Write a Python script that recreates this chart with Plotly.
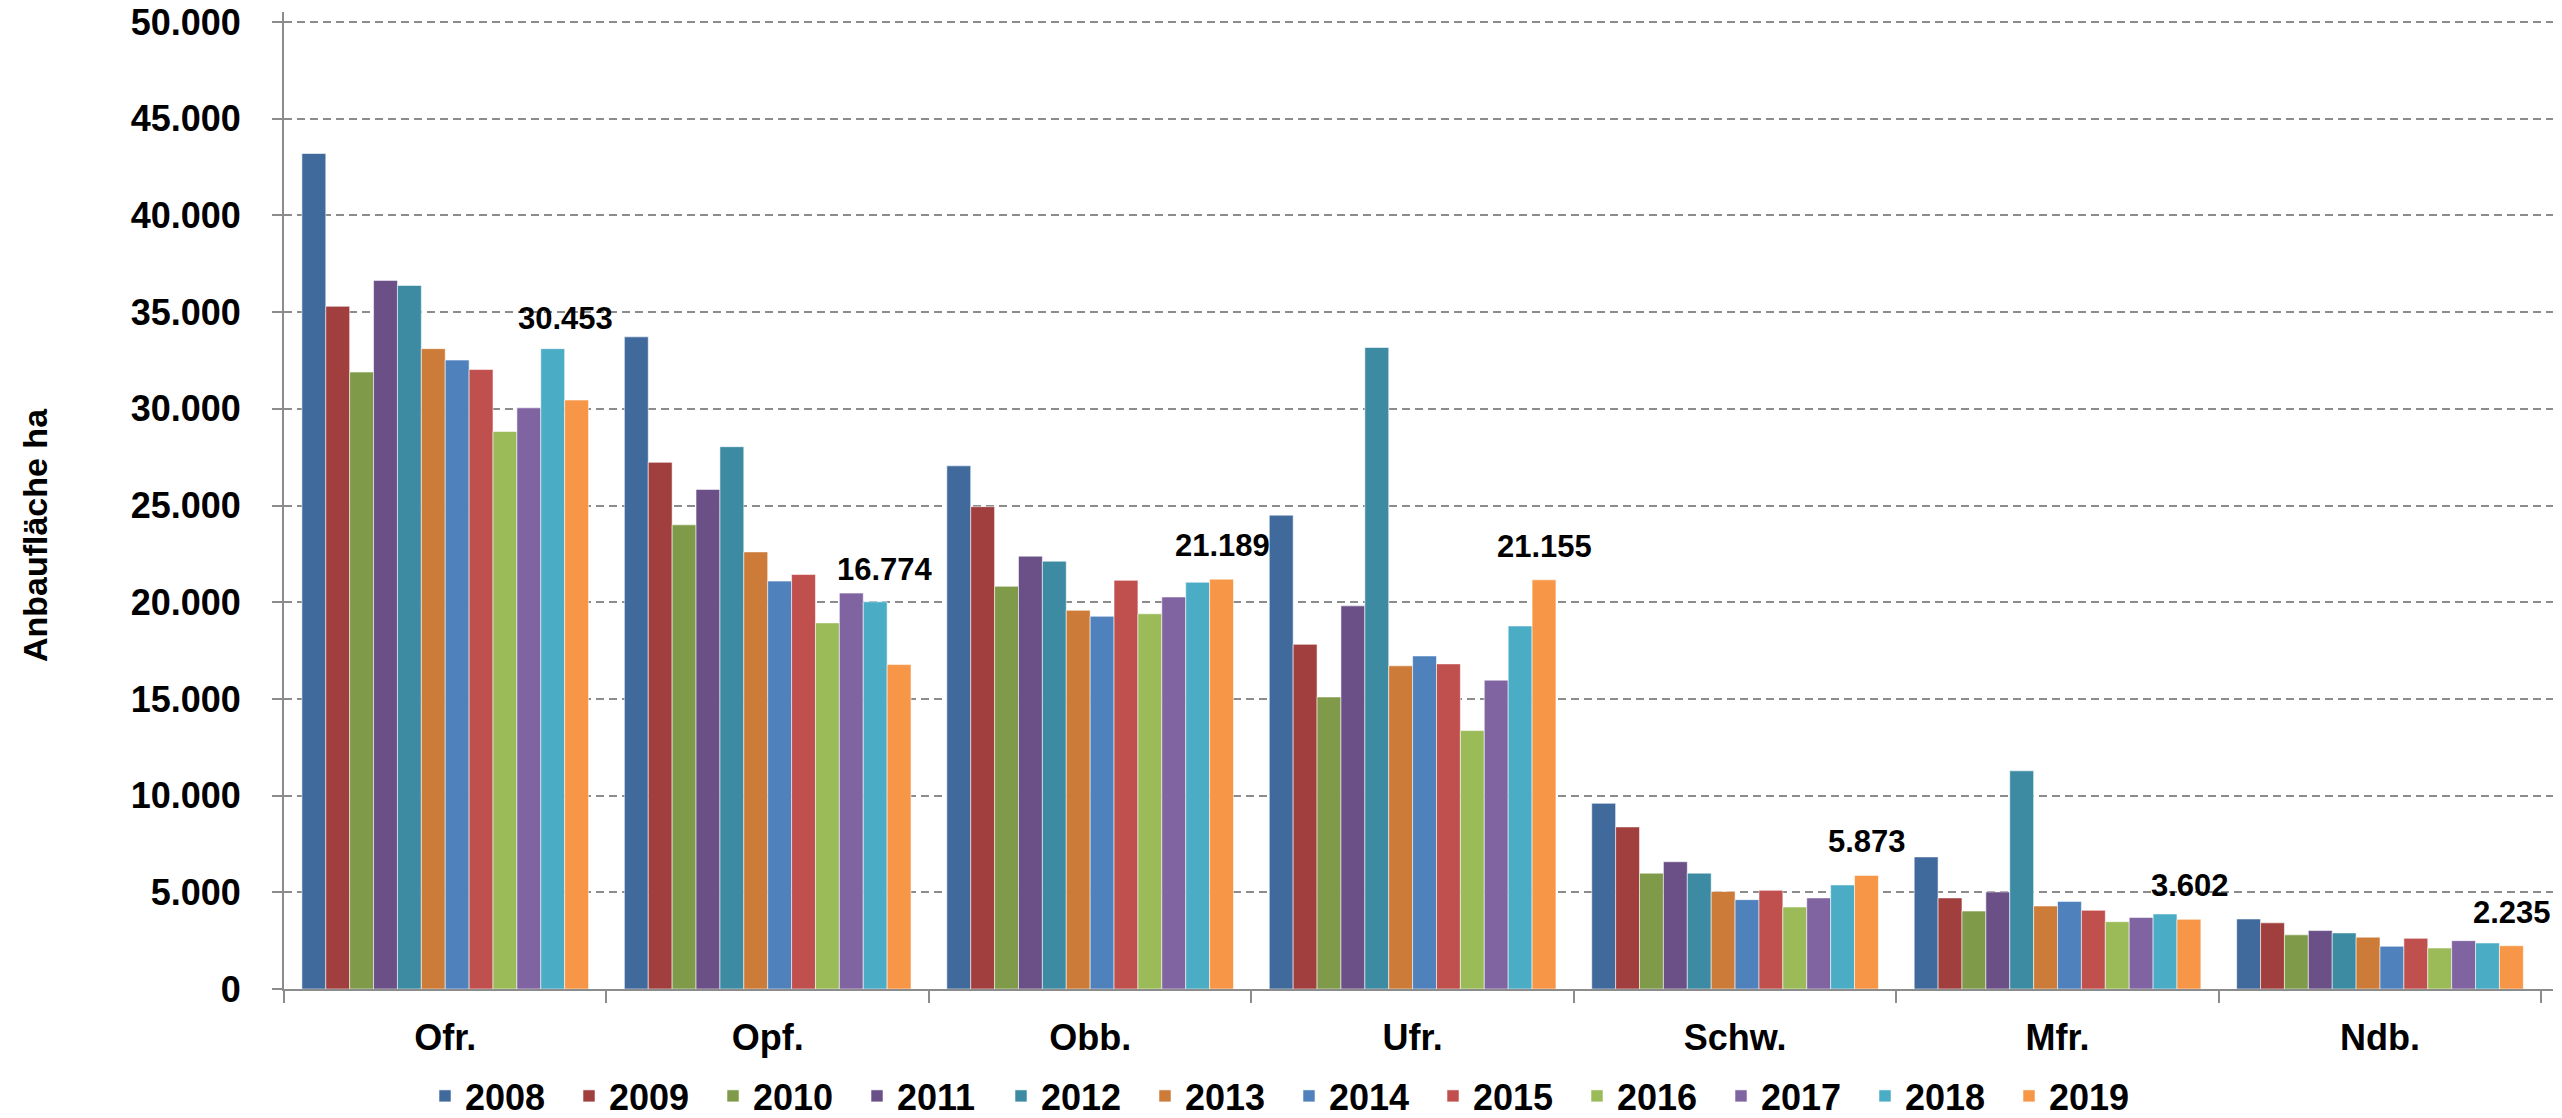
import plotly.graph_objects as go

regions = ["Ofr.", "Opf.", "Obb.", "Ufr.", "Schw.", "Mfr.", "Ndb."]
years = ["2008", "2009", "2010", "2011", "2012", "2013",
         "2014", "2015", "2016", "2017", "2018", "2019"]

v2008 = [43200, 33720, 27050, 24500, 9600, 6830, 3620]
v2009 = [35300, 27230, 24940, 17820, 8380, 4710, 3420]
v2010 = [31900, 24000, 20820, 15100, 5990, 4030, 2800]
v2011 = [36640, 25830, 22380, 19810, 6580, 5020, 3020]
v2012 = [36380, 28040, 22120, 33170, 5990, 11280, 2900]
v2013 = [33110, 22600, 19580, 16710, 5040, 4290, 2680]
v2014 = [32520, 21090, 19270, 17220, 4620, 4530, 2210]
v2015 = [32030, 21430, 21130, 16810, 5100, 4070, 2620]
v2016 = [28830, 18930, 19400, 13360, 4240, 3480, 2120]
v2017 = [30050, 20470, 20270, 15970, 4710, 3700, 2500]
v2018 = [33110, 20020, 21030, 18770, 5380, 3880, 2380]
v2019 = [30453, 16774, 21189, 21155, 5873, 3602, 2235]

series = [v2008, v2009, v2010, v2011, v2012, v2013,
          v2014, v2015, v2016, v2017, v2018, v2019]

colors = ["#416A9C", "#A03F3E", "#7F9A48", "#6A5086", "#3C8BA3", "#CC7B38",
          "#4F81BD", "#C0504D", "#9BBB59", "#8064A2", "#4BACC6", "#F79646"]

# label placement offsets (px) for the 2019 value labels
label_xshift = [120, 117, 132, 132, 132, 132, 132]
label_yshift = [62, 76, 14, 14, 14, 14, 14]

FONT = "Arial, Liberation Sans, sans-serif"
GRAY = "#8C8C8C"

fig = go.Figure()
for name, vals, col in zip(years, series, colors):
    fig.add_trace(go.Bar(
        x=regions, y=vals, name=name,
        marker=dict(color=col, line=dict(color="rgba(255,255,255,0.55)", width=1)),
    ))

for reg, val, xs, ys in zip(regions, v2019, label_xshift, label_yshift):
    fig.add_annotation(
        x=reg, y=val, xref="x", yref="y",
        text=f"{val:,}".replace(",", "."),
        showarrow=False, xanchor="center", yanchor="bottom",
        xshift=xs, yshift=ys,
        font=dict(family=FONT, size=31, color="black", weight=700),
    )

fig.add_annotation(
    text="Anbaufläche ha", textangle=-90,
    xref="paper", yref="paper", x=-0.110, y=0.465,
    xanchor="center", yanchor="middle", showarrow=False,
    font=dict(family=FONT, size=34, color="black", weight=700),
)

fig.update_layout(
    width=2562, height=1118,
    margin=dict(l=276, r=17, t=4, b=137, autoexpand=False),
    paper_bgcolor="white", plot_bgcolor="white",
    barmode="group", bargap=0.111, bargroupgap=0,
    separators=",.",
    font=dict(family=FONT, size=36, color="black", weight=700),
    showlegend=True,
    legend=dict(
        orientation="h", xref="container", yref="container",
        x=0.5, xanchor="center", y=0, yanchor="bottom",
        font=dict(family=FONT, size=36, color="black", weight=700),
        itemclick=False, tracegroupgap=0,
        entrywidth=99, entrywidthmode="pixels",
    ),
)

fig.update_yaxes(
    range=[0, 50517], dtick=5000, tick0=0, tickformat=",.0f",
    automargin=False,
    showgrid=True, gridcolor=GRAY, gridwidth=2, griddash="8px,5px",
    showline=True, linecolor=GRAY, linewidth=2,
    ticks="outside", ticklen=10, tickcolor=GRAY, tickwidth=2,
    ticklabelstandoff=24, ticklabeloverflow="allow", zeroline=False,
    tickfont=dict(family=FONT, size=36, color="black", weight=700),
)
fig.update_xaxes(
    automargin=False,
    showline=True, linecolor=GRAY, linewidth=2,
    ticks="outside", tickson="boundaries", ticklen=12,
    tickcolor=GRAY, tickwidth=2, showgrid=False,
    ticklabelstandoff=16,
    tickfont=dict(family=FONT, size=36, color="black", weight=700),
)

fig.write_html("out.html")
